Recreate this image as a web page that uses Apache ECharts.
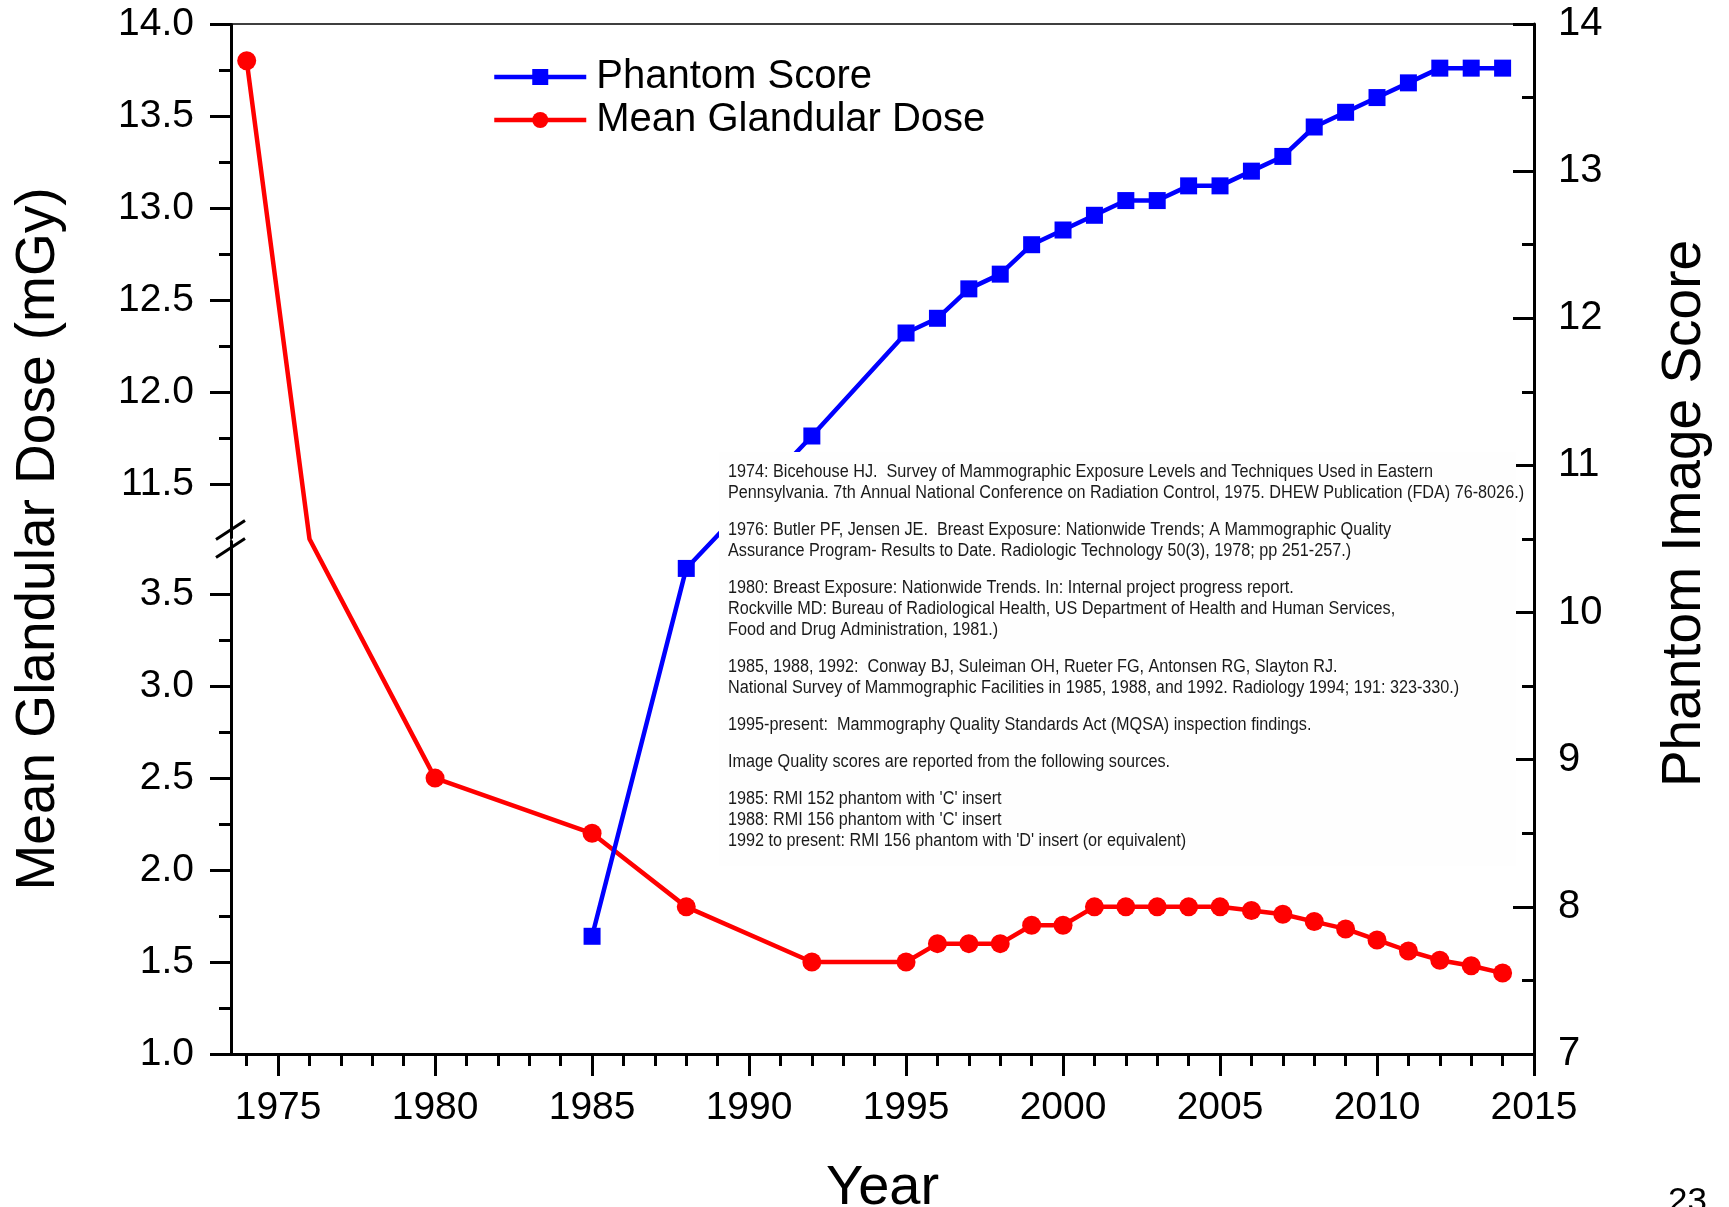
<!DOCTYPE html>
<html><head><meta charset="utf-8">
<script src="https://cdn.jsdelivr.net/npm/echarts@6/dist/echarts.min.js"></script>
<style>html,body{margin:0;padding:0;background:#fff}#c{width:1729px;height:1207px}</style>
</head><body><div id="c"></div>
<script>
// ---- data ----
const doseYears = [1974,1976,1980,1985,1988,1992,1995,1996,1997,1998,1999,2000,2001,2002,2003,2004,2005,2006,2007,2008,2009,2010,2011,2012,2013,2014];
const doseValues = [13.8,7.5,2.5,2.2,1.8,1.5,1.5,1.6,1.6,1.6,1.7,1.7,1.8,1.8,1.8,1.8,1.8,1.78,1.76,1.72,1.68,1.62,1.56,1.51,1.48,1.44];
const hiddenMarkerYears = [1976]; // point lies inside the axis break
const phantomYears = [1985,1988,1992,1995,1996,1997,1998,1999,2000,2001,2002,2003,2004,2005,2006,2007,2008,2009,2010,2011,2012,2013,2014];
const phantomValues = [7.8,10.3,11.2,11.9,12.0,12.2,12.3,12.5,12.6,12.7,12.8,12.8,12.9,12.9,13.0,13.1,13.3,13.4,13.5,13.6,13.7,13.7,13.7];
const yearMajorTicks = [1975,1980,1985,1990,1995,2000,2005,2010,2015];
const yearMinorTicks = [1974,1976,1977,1978,1979,1981,1982,1983,1984,1986,1987,1988,1989,1991,1992,1993,1994,1996,1997,1998,1999,2001,2002,2003,2004,2006,2007,2008,2009,2011,2012,2013,2014];
const doseMajorTicks = [1.0,1.5,2.0,2.5,3.0,3.5,11.5,12.0,12.5,13.0,13.5,14.0];
const doseMinorTicks = [1.25,1.75,2.25,2.75,3.25,11.75,12.25,12.75,13.25,13.75];
const doseBreak = {start: 3.79, end: 11.21};
const refParagraphs = [
 ["1974: Bicehouse HJ.  Survey of Mammographic Exposure Levels and Techniques Used in Eastern",
  "Pennsylvania. 7th Annual National Conference on Radiation Control, 1975. DHEW Publication (FDA) 76-8026.)"],
 ["1976: Butler PF, Jensen JE.  Breast Exposure: Nationwide Trends; A Mammographic Quality",
  "Assurance Program- Results to Date. Radiologic Technology 50(3), 1978; pp 251-257.)"],
 ["1980: Breast Exposure: Nationwide Trends. In: Internal project progress report.",
  "Rockville MD: Bureau of Radiological Health, US Department of Health and Human Services,",
  "Food and Drug Administration, 1981.)"],
 ["1985, 1988, 1992:  Conway BJ, Suleiman OH, Rueter FG, Antonsen RG, Slayton RJ.",
  "National Survey of Mammographic Facilities in 1985, 1988, and 1992. Radiology 1994; 191: 323-330.)"],
 ["1995-present:  Mammography Quality Standards Act (MQSA) inspection findings."],
 ["Image Quality scores are reported from the following sources."],
 ["1985: RMI 152 phantom with 'C' insert",
  "1988: RMI 156 phantom with 'C' insert",
  "1992 to present: RMI 156 phantom with 'D' insert (or equivalent)"]
];
const pageNumber = "23";

// ---- build ----
const FF = '"Liberation Sans", Arial, Helvetica, sans-serif';
const doseData = doseYears.map((y,i)=> hiddenMarkerYears.includes(y) ? {value:[y,doseValues[i]], symbol:'none'} : [y,doseValues[i]]);
const phantomData = phantomYears.map((y,i)=>[y,phantomValues[i]]);

const chart = echarts.init(document.getElementById('c'), null, {renderer:'canvas'});
const blk = '#000';
const axisLineStyle = {color: blk, width: 3};

// annotation text elements
const annoEls = [];
let ty = 472;
refParagraphs.forEach((para, pi) => {
  if (pi > 0) ty += 16;
  para.forEach(line => {
    annoEls.push({type:'text', x: 728, y: ty, z: 101, scaleX: 0.9,
      style:{text: line, fontSize: 18, fontFamily: FF, fill:'#1a1a1a', verticalAlign:'middle', align:'left'}});
    ty += 21;
  });
});

const option = {
  animation: false,
  backgroundColor: '#fff',
  grid: {left: 231, right: 195, top: 24, bottom: 153, show: true, borderColor: blk, borderWidth: 1.5,
         containLabel: false, outerBoundsMode: 'none'},
  legend: {
    data: ['Phantom Score', 'Mean Glandular Dose'],
    orient: 'vertical', left: 487, top: 52,
    itemWidth: 92, itemHeight: 20, itemGap: 3,
    selectedMode: false,
    lineStyle: {width: 4.5},
    textStyle: {fontSize: 40, fontFamily: FF, color: blk, lineHeight: 40, padding: [0,0,0,5]}
  },
  xAxis: [
    {type:'value', min:1973.5, max:2015, position:'bottom',
     axisLine:{show:true, onZero:false, lineStyle:axisLineStyle},
     axisTick:{show:true, customValues: yearMajorTicks, length:22, lineStyle:{color:blk, width:3}},
     axisLabel:{customValues: yearMajorTicks, formatter: v=>String(v), fontSize:39, fontFamily:FF, color:blk, margin:35},
     splitLine:{show:false},
     name:'Year', nameLocation:'middle', nameGap:107, nameTextStyle:{fontSize:56, fontFamily:FF, color:blk}},
    {type:'value', min:1973.5, max:2015, position:'bottom',
     axisLine:{show:false, onZero:false},
     axisTick:{show:true, customValues: yearMinorTicks, length:12, lineStyle:{color:blk, width:3}},
     axisLabel:{show:false}, splitLine:{show:false}}
  ],
  yAxis: [
    {type:'value', position:'left', min:1, max:14,
     breaks:[{start: doseBreak.start, end: doseBreak.end, gap: 0.02}],
     breakArea:{show:false},
     axisLine:{show:true, onZero:false, lineStyle:axisLineStyle},
     axisTick:{show:true, customValues: doseMajorTicks, length:21, lineStyle:{color:blk, width:3}},
     axisLabel:{customValues: doseMajorTicks, formatter: v=>Number(v).toFixed(1), fontSize:39, fontFamily:FF, color:blk, margin:37},
     splitLine:{show:false},
     name:'Mean Glandular Dose (mGy)', nameLocation:'middle', nameGap:165, nameTextStyle:{fontSize:55, fontFamily:FF, color:blk}},
    {type:'value', position:'right', min:7, max:14, interval:1,
     axisLine:{show:true, onZero:false, lineStyle:axisLineStyle},
     axisTick:{show:true, inside:true, length:21, lineStyle:{color:blk, width:3}},
     minorTick:{show:true, splitNumber:2, length:12, lineStyle:{color:blk, width:3}},
     axisLabel:{fontSize:40, fontFamily:FF, color:blk, margin:24},
     splitLine:{show:false},
     name:'Phantom Image Score', nameLocation:'middle', nameGap:123,
     nameTextStyle:{fontSize:55, fontFamily:FF, color:blk, padding:[0,0,0,51]}},
    {type:'value', position:'left', min:1, max:14,
     breaks:[{start: doseBreak.start, end: doseBreak.end, gap: 0.02}],
     breakArea:{show:false},
     axisLine:{show:false, onZero:false},
     axisTick:{show:true, customValues: doseMinorTicks, length:12, lineStyle:{color:blk, width:3}},
     axisLabel:{show:false}, splitLine:{show:false}}
  ],
  series: [
    {name:'Mean Glandular Dose', type:'line', xAxisIndex:0, yAxisIndex:0, data: doseData,
     symbol:'circle', symbolSize:19, showAllSymbol:true,
     lineStyle:{color:'#ff0000', width:4.5}, itemStyle:{color:'#ff0000'}, z:2, clip:false},
    {name:'Phantom Score', type:'line', xAxisIndex:0, yAxisIndex:1, data: phantomData,
     symbol:'rect', symbolSize:17, showAllSymbol:true,
     lineStyle:{color:'#0000ff', width:4.5}, itemStyle:{color:'#0000ff'}, z:3, clip:false}
  ],
  graphic: [
    {type:'rect', shape:{x:719, y:452, width:797, height:414}, style:{fill:'#fefefe'}, z:100},
    ...annoEls,
    {type:'text', x:1668, y:1185, z:101, style:{text: pageNumber, fontSize:35, fontFamily:FF, fill:blk, verticalAlign:'top'}}
  ]
};
chart.setOption(option);

// break markers on the left axis, placed through the axis scale
const midVal = (doseBreak.start + doseBreak.end) / 2;
const py = chart.convertToPixel({yAxisIndex:0}, midVal);
const px = chart.convertToPixel({xAxisIndex:0}, 1973.5);
if (isFinite(py) && isFinite(px)) {
  const g = option.graphic.slice();
  [-9, 9].forEach((d, i) => {
    g.push({type:'line', id:'brk'+i, z:120, shape:{x1:px-15, y1:py+d+9.5, x2:px+14, y2:py+d-9.5},
      style:{stroke:blk, lineWidth:3}});
  });
  chart.setOption({graphic: g});
}
</script></body></html>
